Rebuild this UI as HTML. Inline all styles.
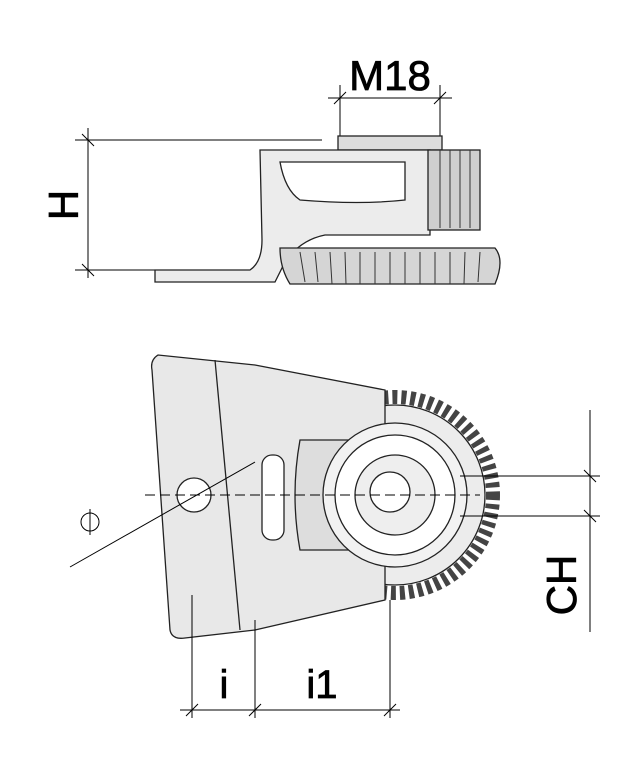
<!DOCTYPE html>
<html><head><style>body{margin:0;background:#fff}svg{display:block}</style></head><body>
<svg width="638" height="757" viewBox="0 0 638 757" xmlns="http://www.w3.org/2000/svg" font-family="Liberation Sans, sans-serif">
<rect width="638" height="757" fill="#fff"/>
<g stroke="#000" stroke-width="1" fill="none">
<line x1="328" y1="98" x2="452" y2="98"/>
<line x1="340" y1="85" x2="340" y2="140"/><line x1="440" y1="85" x2="440" y2="140"/>
<line x1="334" y1="104" x2="346" y2="92"/><line x1="434" y1="104" x2="446" y2="92"/>
<line x1="75" y1="140" x2="322" y2="140"/><line x1="75" y1="270" x2="255" y2="270"/>
<line x1="88" y1="128" x2="88" y2="278"/>
<line x1="82" y1="134" x2="94" y2="146"/><line x1="82" y1="264" x2="94" y2="276"/>
</g>
<text x="390" y="90" font-size="42" text-anchor="middle" stroke="#000" stroke-width="0.8">M18</text>
<text transform="translate(78,205) rotate(-90)" font-size="42" text-anchor="middle" stroke="#000" stroke-width="0.8">H</text>
<g stroke="#222" stroke-width="1.3" fill="#ececec">
<rect x="338" y="136" width="104" height="14" fill="#ddd"/>
<path d="M260 150 H430 V235 H325 Q300 240 285 262 L275 282 H155 V270 H250 Q262 262 262 240 Z"/>
<rect x="428" y="150" width="52" height="80" fill="#cfcfcf"/>
<path d="M280 248 H495 Q505 260 495 284 H290 Q280 268 280 248 Z" fill="#d5d5d5"/>
<path d="M280 162 H405 V200 Q360 205 300 200 Q285 190 280 162 Z" fill="#fff"/>
</g>
<g stroke="#333" stroke-width="1">
<line x1="440" y1="150" x2="440" y2="228"/><line x1="450" y1="150" x2="450" y2="228"/><line x1="460" y1="150" x2="460" y2="228"/><line x1="470" y1="150" x2="470" y2="228"/>
<line x1="300" y1="252" x2="305" y2="282"/><line x1="315" y1="252" x2="318" y2="282"/><line x1="330" y1="252" x2="332" y2="284"/><line x1="345" y1="252" x2="346" y2="284"/><line x1="360" y1="252" x2="360" y2="284"/><line x1="375" y1="252" x2="375" y2="284"/><line x1="390" y1="252" x2="390" y2="284"/><line x1="405" y1="252" x2="405" y2="284"/><line x1="420" y1="252" x2="420" y2="284"/><line x1="435" y1="252" x2="435" y2="284"/><line x1="450" y1="252" x2="450" y2="284"/><line x1="465" y1="252" x2="464" y2="284"/><line x1="480" y1="252" x2="478" y2="282"/>
</g>
<g stroke="#222" stroke-width="1.3">
<circle cx="395" cy="495" r="98" fill="none" stroke="#444" stroke-dasharray="5 4" stroke-width="14"/>
<circle cx="395" cy="495" r="90" fill="#ececec"/>
<path d="M158 355 Q150 360 152 370 L170 630 Q172 640 185 638 L255 630 L385 600 L385 390 L255 365 Z" fill="#e8e8e8"/>
<line x1="215" y1="360" x2="240" y2="630"/>
<rect x="262" y="455" width="22" height="85" rx="10" fill="#fff"/>
<path d="M300 440 H395 V550 H300 Q290 495 300 440 Z" fill="#ddd"/>
<circle cx="395" cy="495" r="72" fill="#f2f2f2"/>
<circle cx="395" cy="495" r="60" fill="#fff"/>
<circle cx="395" cy="495" r="40" fill="#eee"/>
<circle cx="390" cy="492" r="20" fill="#fff"/>
<circle cx="194" cy="495" r="17" fill="#fff"/>
</g>
<g stroke="#000" stroke-width="1" fill="none">
<line x1="145" y1="495" x2="480" y2="495" stroke-dasharray="10 5"/>
<line x1="70" y1="567" x2="255" y2="462"/>
<circle cx="90" cy="522" r="9"/><line x1="90" y1="509" x2="90" y2="535"/>
<line x1="460" y1="476" x2="600" y2="476"/><line x1="460" y1="516" x2="600" y2="516"/>
<line x1="590" y1="410" x2="590" y2="632"/>
<line x1="584" y1="470" x2="596" y2="482"/><line x1="584" y1="510" x2="596" y2="522"/>
<line x1="192" y1="595" x2="192" y2="718"/><line x1="255" y1="620" x2="255" y2="718"/><line x1="390" y1="600" x2="390" y2="718"/>
<line x1="180" y1="710" x2="400" y2="710"/>
<line x1="186" y1="716" x2="198" y2="704"/><line x1="249" y1="716" x2="261" y2="704"/><line x1="384" y1="716" x2="396" y2="704"/>
</g>
<text x="224" y="698" font-size="40" text-anchor="middle" stroke="#000" stroke-width="0.8">i</text>
<text x="322" y="698" font-size="40" text-anchor="middle" stroke="#000" stroke-width="0.8">i1</text>
<text transform="translate(576,585) rotate(-90)" font-size="42" text-anchor="middle" stroke="#000" stroke-width="0.8">CH</text>
</svg>
</body></html>
